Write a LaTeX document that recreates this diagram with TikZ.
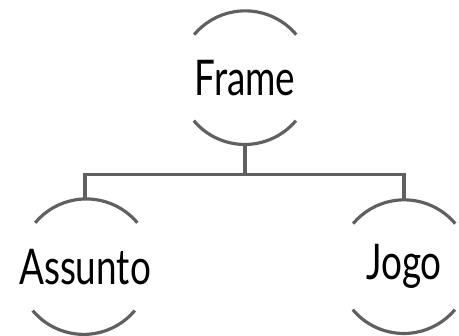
\documentclass[tikz,border=0pt]{standalone}
\usepackage{fontspec}
\setmainfont{Lato}[FakeStretch=0.75]
\usetikzlibrary{positioning, calc}

\definecolor{linegray}{RGB}{96,96,96}

\begin{document}
\begin{tikzpicture}[
  font=\fontsize{42}{48}\selectfont,
  topic/.style={circle, minimum size=4cm, inner sep=0pt},
  rim/.style={draw=linegray, line width=2.7pt},
  conn/.style={draw=linegray, line width=2.9pt}
]
  \useasboundingbox (0,0) rectangle (13.77,10.08);
  \node[topic] (fr) at (7.35,7.75) {Frame};
  \node[topic] (as) at (2.55,2.08) {Assunto};
  \node[topic] (jo) at (12.12,2.08) {Jogo};
  % half-open rims above and below each label
  \foreach \n in {fr, as, jo} {
    \draw[rim] (\n.40) arc[start angle=40, end angle=140, radius=2cm];
    \draw[rim] (\n.220) arc[start angle=220, end angle=320, radius=2cm];
  }
  \coordinate (hub) at ($(fr.south)+(0,-0.9)$);
  \draw[conn] (fr.south) -- (hub) -| (as.north);
  \draw[conn] (hub) -| (jo.north);
\end{tikzpicture}
\end{document}
